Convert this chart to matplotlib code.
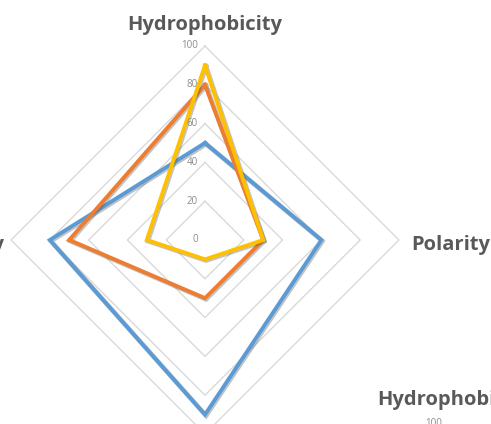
import numpy as np
import matplotlib
matplotlib.use("Agg")
import matplotlib.pyplot as plt
import matplotlib.patheffects as pe

# Property axes (clockwise from top)
axis_labels = ["Hydrophobicity", "Polarity", "Charge", "Flexibility"]
series_blue = [50, 60, 90, 80]
series_orange = [80, 30, 30, 70]
series_yellow = [90, 30, 10, 30]
ring_values = [20, 40, 60, 80, 100]
tick_labels = ["0", "20", "40", "60", "80", "100"]

colors = ["#5B9BD5", "#ED7D31", "#FFC000"]

W, H = 491, 424
fig = plt.figure(figsize=(W / 100, H / 100), dpi=100)
fig.patch.set_facecolor("white")

cx, cy, R = 205, 240, 194
ax = fig.add_axes([(cx - R) / W, (H - cy - R) / H, 2 * R / W, 2 * R / H],
                  projection="polar")
ax.set_theta_zero_location("N")
ax.set_theta_direction(-1)
ax.set_ylim(0, 100)
ax.grid(False)
ax.set_xticks([])
ax.set_yticks([])
ax.spines["polar"].set_visible(False)
ax.patch.set_alpha(0)

n = len(axis_labels)
theta = np.linspace(0, 2 * np.pi, n, endpoint=False)
theta_closed = np.append(theta, theta[0])

# Diamond grid rings
for rv in ring_values:
    ax.plot(theta_closed, [rv] * (n + 1), color="#D9D9D9", lw=1.0,
            zorder=1, clip_on=False)

shadow = [pe.SimpleLineShadow(offset=(0.8, -0.8), shadow_color="#555555",
                              alpha=0.35, linewidth=3.4),
          pe.Normal()]

for vals, col in zip([series_blue, series_orange, series_yellow], colors):
    v = list(vals) + [vals[0]]
    ax.plot(theta_closed, v, color=col, lw=2.8, zorder=3,
            solid_joinstyle="miter", clip_on=False, path_effects=shadow)

# Value labels along the vertical axis
for i, lab in enumerate(tick_labels):
    r = i * 20
    ax.annotate(lab, xy=(0, r), xytext=(-5, 0), textcoords="offset points",
                ha="right", va="center", fontsize=7, color="#8C8C8C",
                family="Open Sans")

label_kw = dict(fontsize=14.5, fontweight="bold", color="#595959",
                family="Open Sans")
fig.text(cx / W, 1 - 30 / H, axis_labels[0], ha="center", va="baseline", **label_kw)
fig.text(411 / W, 1 - 250 / H, axis_labels[1], ha="left", va="baseline", **label_kw)
fig.text(4 / W, 1 - 250 / H, axis_labels[3], ha="right", va="baseline", **label_kw)

# Neighbouring chart heading
fig.text(377 / W, 1 - 405 / H, "Hydrophobicity", ha="left", va="baseline", **label_kw)
fig.text(442 / W, 1 - 424 / H, "100", ha="right", va="center", fontsize=7,
         color="#8C8C8C", family="Open Sans")

fig.savefig("out.png", dpi=100, facecolor="white")
